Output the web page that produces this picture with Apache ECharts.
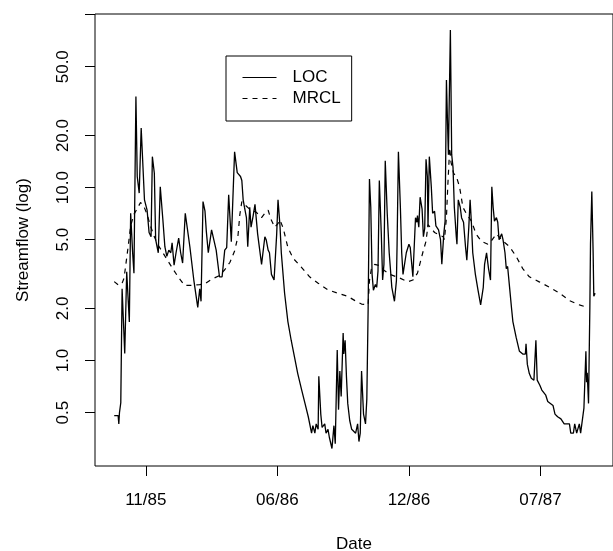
<!DOCTYPE html>
<html><head><meta charset="utf-8">
<script src="https://cdn.jsdelivr.net/npm/echarts@6/dist/echarts.min.js"></script>
<style>html,body{margin:0;padding:0;background:#fff}#c{width:613px;height:551px}</style>
</head><body><div id="c"></div>
<script>
// day offsets from 1985-10-01, streamflow values
const locDays = [
0,6,7,8,10,12,16,19,23,25,28,30,33,35,38,41,43,46,50,53,
56,58,61,63,67,70,74,77,80,83,86,88,91,94,98,101,104,108,115,121,
127,130,132,135,138,140,143,148,155,160,164,168,171,174,178,183,187,189,192,194,
196,198,201,203,206,208,211,214,218,224,229,231,234,236,239,243,245,247,249,252,
254,259,264,269,274,279,285,290,295,300,302,305,307,310,311,314,316,320,322,325,
327,331,334,336,339,341,343,345,348,349,351,353,355,358,361,364,367,370,372,374,
376,379,382,384,386,388,390,392,394,397,399,401,403,406,408,410,412,415,418,422,
426,429,430,432,435,437,439,442,444,448,450,454,456,458,460,461,463,465,468,470,
472,474,476,477,479,482,484,487,489,493,496,498,501,503,505,507,508,511,513,515,
517,520,521,523,526,528,531,534,536,539,541,543,545,549,553,557,561,563,566,569,
572,574,576,578,581,583,585,587,589,591,594,596,598,601,604,606,611,616,621,625,
626,628,631,634,638,640,641,643,644,647,650,653,656,659,662,667,670,674,679,684,
692,694,698,700,702,703,706,707,709,712,714,717,718,719,721,723,724,726,728,729,
731];
const locFlow = [
0.48,0.48,0.43,0.50,0.57,2.6,1.1,3.26,1.67,7.1,4.2,3.2,33.6,11.6,9.3,22.1,21.6,8.5,7.4,5.5,
5.2,15.1,12.1,5.0,4.2,10.1,6.5,4.55,4.0,4.35,4.2,4.8,3.56,4.2,5.1,4.2,3.66,7.1,4.55,2.92,
2.03,2.6,2.2,8.3,7.3,5.6,4.2,5.7,4.35,3.05,3.05,4.35,4.5,9.1,4.87,16.1,12.2,12.0,11.6,11.0,
8.5,7.7,6.7,4.55,7.7,5.9,6.8,8.0,5.4,3.6,5.2,5.0,4.35,4.2,3.15,2.92,2.85,5.4,8.5,6.0,
4.2,2.45,1.68,1.31,1.05,0.84,0.675,0.565,0.473,0.38,0.42,0.38,0.43,0.40,0.81,0.49,0.41,0.43,0.38,0.40,
0.36,0.31,0.42,0.33,1.15,0.52,0.87,0.62,1.44,1.09,1.31,0.81,0.565,0.45,0.40,0.40,0.38,0.43,0.34,0.38,
0.87,0.49,0.43,0.60,2.0,11.2,7.7,3.15,2.55,2.75,2.65,3.3,11.0,5.4,2.92,3.6,14.3,7.1,4.2,2.65,
2.2,2.9,4.7,16.1,7.7,4.2,3.15,3.2,4.2,4.7,4.5,3.05,3.1,6.7,6.3,6.9,5.9,8.8,7.5,5.2,
5.8,14.6,11.6,5.9,15.1,10.1,7.1,7.3,6.0,5.7,5.0,3.6,5.4,6.4,41.9,21.2,15.5,81.5,15.5,13.1,
7.7,5.2,4.7,8.5,7.7,6.7,6.3,4.55,3.8,5.9,8.5,6.2,4.2,3.15,2.55,2.1,2.65,3.6,4.2,3.4,
2.92,10.1,7.7,6.4,6.7,6.3,5.0,4.9,5.4,5.0,4.2,3.4,3.5,2.65,2.0,1.68,1.36,1.13,1.09,1.09,
1.25,0.95,0.84,0.79,0.77,0.77,1.31,0.77,0.78,0.72,0.675,0.69,0.63,0.58,0.565,0.55,0.49,0.473,0.46,0.43,
0.43,0.38,0.38,0.43,0.43,0.38,0.38,0.43,0.38,0.38,0.53,1.13,0.75,0.85,0.565,2.0,4.7,9.5,4.2,2.35,
2.45];
const mrclDays = [
0,7,12,15,21,25,30,36,40,45,50,54,60,66,74,81,89,97,107,119,
130,138,148,160,168,176,183,188,191,194,198,206,216,224,229,234,238,244,249,252,
257,264,272,285,297,310,325,340,355,366,376,386,388,391,396,402,409,419,434,446,
454,461,469,474,477,482,487,495,500,502,505,507,510,512,516,520,525,530,535,543,
550,558,568,573,581,591,601,611,621,631,646,662,677,692,707,721];
const mrclFlow = [
2.86,2.72,2.8,3.0,4.5,6.0,7.0,7.7,8.2,7.8,7.0,6.2,5.3,4.7,4.2,3.8,3.4,3.05,2.72,2.72,
2.75,2.78,2.95,3.1,3.35,3.7,4.3,5.2,7.0,8.3,8.0,7.5,7.2,6.7,7.1,7.4,6.6,5.9,6.2,6.5,
5.8,4.5,3.9,3.45,3.05,2.8,2.56,2.45,2.35,2.22,2.12,2.1,2.9,3.4,3.6,3.55,3.35,3.15,3.0,2.85,
2.92,3.2,4.2,4.9,6.1,5.8,5.5,5.3,5.2,5.0,6.7,10.1,17.0,14.0,12.1,11.6,10.1,7.7,7.1,6.4,
5.4,4.9,4.7,4.9,5.4,4.9,4.55,4.0,3.4,3.05,2.85,2.65,2.45,2.22,2.1,2.02];

const xTickDays = [48, 248, 448, 648];
const xTickLabels = ['11/85', '06/86', '12/86', '07/87'];
const yTickValues = [0.5, 1, 2, 5, 10, 20, 50, 100];
const yLabelValues = [0.5, 1, 2, 5, 10, 20, 50];
const yLabelTexts = ['0.5', '1.0', '2.0', '5.0', '10.0', '20.0', '50.0'];
const xMin = -29.2, xMax = 758.2, yMin = 0.2455, yMax = 100.9;

const FONT = "'Liberation Sans', Arial, Helvetica, sans-serif";
const zip = (a, b) => a.map((v, i) => [v, b[i]]);
const chart = echarts.init(document.getElementById('c'), null, {renderer: 'canvas'});
chart.setOption({
  animation: false,
  backgroundColor: '#fff',
  textStyle: {fontFamily: FONT, color: '#000'},
  grid: {left: 95, top: 14, width: 518, height: 452, show: true, borderColor: '#000', borderWidth: 1,
    containLabel: false, outerBoundsMode: 'none'},
  legend: {
    data: ['LOC', 'MRCL'], orient: 'vertical', left: 226, top: 56,
    borderColor: '#000', borderWidth: 1, borderRadius: 0, padding: [13, 11, 14, 16],
    itemWidth: 34, itemHeight: 17, itemGap: 4,
    itemStyle: {opacity: 0},
    lineStyle: {width: 1},
    textStyle: {fontSize: 17, color: '#000', fontFamily: FONT, padding: [0, 0, 0, 11]}
  },
  xAxis: {
    type: 'value', min: xMin, max: xMax,
    axisLine: {show: false, onZero: false}, splitLine: {show: false},
    axisTick: {show: true, length: 10, customValues: xTickDays, lineStyle: {color: '#000', width: 1}},
    axisLabel: {customValues: xTickDays, margin: 26, fontSize: 17, color: '#000', fontFamily: FONT,
      formatter: v => { const i = xTickDays.findIndex(t => Math.abs(t - v) < 1e-6); return i >= 0 ? xTickLabels[i] : ''; }},
    name: 'Date', nameLocation: 'middle', nameGap: 70,
    nameTextStyle: {fontSize: 17, color: '#000', fontFamily: FONT}
  },
  yAxis: [
    {type: 'log', logBase: 10, min: yMin, max: yMax, show: false},
    {type: 'value', position: 'left', min: Math.log10(yMin), max: Math.log10(yMax),
      axisLine: {show: false, onZero: false}, splitLine: {show: false},
      axisTick: {show: true, length: 10, customValues: yTickValues.map(Math.log10), lineStyle: {color: '#000', width: 1}},
      axisLabel: {customValues: yLabelValues.map(Math.log10), rotate: 90, margin: 23, fontSize: 17, color: '#000', fontFamily: FONT,
        formatter: v => { const i = yLabelValues.findIndex(t => Math.abs(Math.log10(t) - v) < 1e-6); return i >= 0 ? yLabelTexts[i] : ''; }},
      name: 'Streamflow (log)', nameLocation: 'middle', nameGap: 63,
      nameTextStyle: {fontSize: 17, color: '#000', fontFamily: FONT}
    }
  ],
  series: [
    {name: 'LOC', type: 'line', yAxisIndex: 0, data: zip(locDays, locFlow), symbol: 'none', showSymbol: false,
      lineStyle: {color: '#000', width: 1.3, type: 'solid'}, itemStyle: {color: '#000'}},
    {name: 'MRCL', type: 'line', yAxisIndex: 0, data: zip(mrclDays, mrclFlow), symbol: 'none', showSymbol: false,
      lineStyle: {color: '#000', width: 1.2, type: [5, 5]}, itemStyle: {color: '#000'}}
  ]
});
</script></body></html>
